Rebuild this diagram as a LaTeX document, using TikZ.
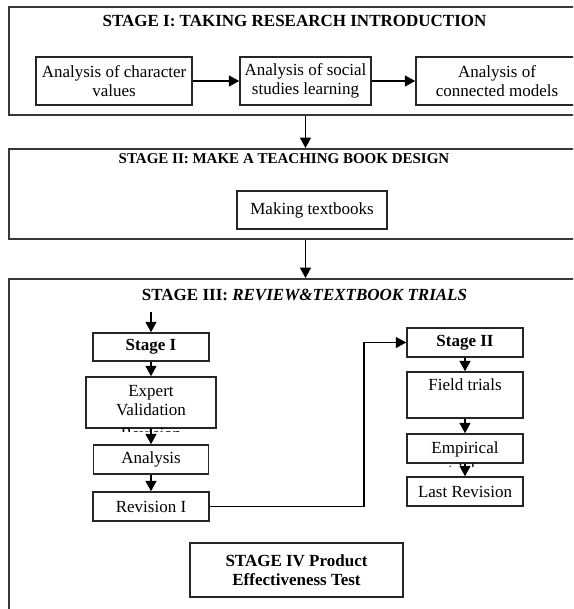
\documentclass[tikz,border=0pt]{standalone}
\usepackage{fontspec}
\setmainfont{Liberation Serif}
\usetikzlibrary{arrows.meta}
\begin{document}
\begin{tikzpicture}[x=1pt,y=-1pt,
  every node/.style={font=\fontsize{17}{19}\selectfont},
  outer/.style={draw=black!78, line width=1.9pt, rectangle, inner sep=0pt},
  inbox/.style={draw=black!85, line width=1.5pt, rectangle, inner sep=0pt, align=center},
  boldtxt/.style={font=\fontsize{17}{19}\selectfont\bfseries},
  title/.style={font=\fontsize{17}{19}\selectfont\bfseries, anchor=base, inner sep=0pt},
  arr/.style={line width=1.6pt, -{Triangle[length=10.5pt,width=11pt]}}
]
\clip (0,0) rectangle (573,609);
\fill[white] (0,0) rectangle (573,609);

% stage frames
\node[outer, minimum width=572pt, minimum height=108pt] (s1) at (295,61) {};
\node[outer, minimum width=572pt, minimum height=90pt] (s2) at (295,194) {};
\node[outer, minimum width=572pt, minimum height=341pt] (s3) at (295,449.5) {};

% titles
\node[title] (t1) at (294.5,27) {STAGE I: TAKING RESEARCH INTRODUCTION};
\node[title, font=\fontsize{15}{17}\selectfont\bfseries] (t2) at (284,164) {STAGE II: MAKE A TEACHING BOOK DESIGN};
\node[title] (t3) at (304.5,300) {STAGE III: \textit{REVIEW\&TEXTBOOK TRIALS}};

% stage I
\node[inbox, minimum width=156pt, minimum height=48pt] (a1) at (114,81) {Analysis of character\\values};
\node[inbox, minimum width=131pt, minimum height=48pt] (a2) at (305.5,81) {Analysis of social\\studies learning};
\node[inbox, minimum width=162pt, minimum height=48pt] (a3) at (497,81) {Analysis of\\connected models};
\draw[arr] (a1) -- (a2);
\draw[arr] (a2) -- (a3);
\draw[arr] (s1.south -| a2) -- (s2.north -| a2);

% stage II
\node[inbox, minimum width=150pt, minimum height=38pt] (mk) at (312,210) {Making textbooks};
\draw[arr] (s2.south -| a2) -- (s3.north -| a2);

% stage III left column
\coordinate (in1) at (151,312);
\node[inbox, boldtxt, minimum width=116pt, minimum height=28pt] (b1) at (151,347) {Stage I};
\node[inbox, minimum width=130pt, minimum height=51pt] (b2) at (151,402.5) {};
\begin{scope}
  \clip ([xshift=-1pt]b2.north west) rectangle ([yshift=-2.5pt]b2.south east);
  \node[anchor=north, inner sep=0pt, align=center] (b2t) at (151,385) {Expert\\Validation\\[5pt]Revision};
\end{scope}
\node[inbox, minimum width=115pt, minimum height=29pt] (b3) at (151,459.5) {Analysis};
\node[inbox, minimum width=116pt, minimum height=29pt] (b4) at (151,506.5) {Revision I};
\draw[arr] (in1) -- (b1);
\draw[arr] (b1) -- (b2);
\draw[arr] (b2) -- (b3);
\draw[arr] (b3) -- (b4);

% stage III right column
\node[inbox, boldtxt, minimum width=116pt, minimum height=29pt] (c1) at (465,342.5) {Stage II};
\node[inbox, minimum width=116pt, minimum height=46pt] (c2) at (465,395) {};
\node[anchor=base, inner sep=0pt] (c2t) at (465,390) {Field trials};
\node[inbox, minimum width=116pt, minimum height=29pt] (c3) at (465,448.5) {};
\begin{scope}
  \clip ([xshift=-1pt]c3.north west) rectangle ([yshift=-2.5pt]c3.south east);
  \node[anchor=north, inner sep=0pt, align=center] (c3t) at (465,441.5) {Empirical\\[3pt]trials};
\end{scope}
\node[inbox, minimum width=116pt, minimum height=29pt] (c4) at (465,491.5) {Last Revision};
\draw[arr] (c1) -- (c2);
\draw[arr] (c2) -- (c3);
\draw[arr] (c3) -- (c4);

% link Revision I -> Stage II
\coordinate (vx) at (364,420);
\draw[arr, line width=1.3pt] (b4.east) -| (vx) |- (c1.west);

% stage IV
\node[inbox, boldtxt, minimum width=213pt, minimum height=54pt] (d) at (296.5,570) {STAGE IV Product\\Effectiveness Test};
\end{tikzpicture}
\end{document}
